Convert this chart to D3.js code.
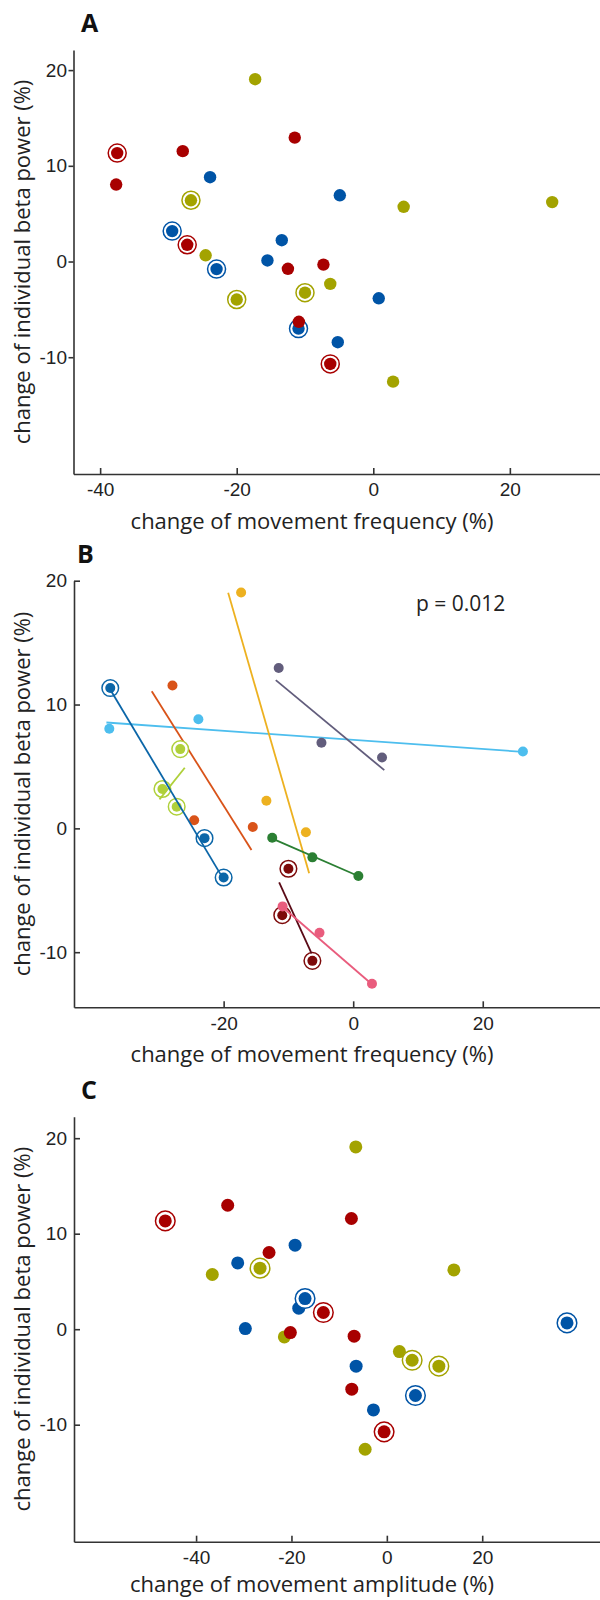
<!DOCTYPE html>
<html>
<head>
<meta charset="utf-8">
<script src="https://cdn.jsdelivr.net/npm/d3@7"></script>
<style>
  body { margin: 0; background: #fff; }
  svg { display: block; font-family: "Open Sans", "Noto Sans", sans-serif; }
</style>
</head>
<body>
<script>
const width = 600
const height = 1600

// nine subjects, three conditions (red, blue, olive)
const subjects = ["S1", "S2", "S3", "S4", "S5", "S6", "S7", "S8", "S9"]
const conditions = ["red", "blue", "olive"]
const condColors = ["#a80000", "#0054a6", "#a3a300"]
const subjColors = ["#0b66a8", "#4dbeee", "#d95319", "#edb120", "#625d7c", "#afd03a", "#2b7f33", "#7d0a0a", "#e95c7d"]
const ringed = [true, false, false, false, false, true, false, true, false]

// change of movement frequency (%)
const freqRed = [-37.5, -37.65, -27.9, -7.3, -11.5, -27.25, -12.5, -6.3, -10.9]
const freqBlue = [-22.95, -23.9, -15.5, -13.4, -4.9, -29.45, 0.8, -10.95, -5.2]
const freqOlive = [-20.0, 26.2, -24.55, -17.3, 4.45, -26.7, -6.3, -10.0, 2.9]

// change of individual beta power (%), panels A and B
const betaRed = [11.33, 8.04, 11.53, -0.32, 12.95, 1.75, -0.76, -10.7, -6.3]
const betaBlue = [-0.79, 8.81, 0.11, 2.23, 6.92, 3.18, -3.84, -7.01, -8.43]
const betaOlive = [-3.97, 6.21, 0.65, 19.05, 5.72, 6.4, -2.34, -3.26, -12.55]

// change of movement amplitude (%), panel C
const ampRed = [-46.46, -24.7, -7.43, -20.23, -33.37, -13.31, -6.86, -0.57, -7.35]
const ampBlue = [37.78, -19.24, -29.67, -18.47, -31.27, -17.15, -6.44, 6.0, -2.81]
const ampOlive = [10.91, 14.06, -21.49, -6.51, -36.6, -26.59, 2.64, 5.31, -4.55]

// beta power as plotted in panel C
const betaAmpRed = [11.34, 8.03, 11.59, -0.35, 12.98, 1.75, -0.73, -10.75, -6.28]
const betaAmpBlue = [0.66, 8.8, 0.07, 2.2, 6.94, 3.21, -3.87, -6.94, -8.45]
const betaAmpOlive = [-3.87, 6.21, -0.81, 19.09, 5.73, 6.39, -2.34, -3.25, -12.57]

// per-subject fit lines in panel B (end points)
const fitX0 = [-37.6, -38.1, -31.1, -19.3, -11.95, -26.0, -12.57, -11.43, -10.97]
const fitY0 = [11.3, 8.55, 11.08, 19.02, 11.97, 4.89, -0.81, -4.36, -6.33]
const fitX1 = [-20.1, 26.2, -15.7, -6.8, 4.8, -29.9, 0.78, -6.43, 2.89]
const fitY1 = [-4.04, 6.18, -1.75, -3.63, 4.7, 2.34, -3.85, -10.09, -12.59]

const pText = "p = 0.012"

const svg = d3.select("body").append("svg")
    .attr("width", width)
    .attr("height", height)
    .attr("viewBox", [0, 0, width, height])

// build long table: one row per subject x condition
const freqs = [freqRed, freqBlue, freqOlive]
const betas = [betaRed, betaBlue, betaOlive]
const amps = [ampRed, ampBlue, ampOlive]
const betasAmp = [betaAmpRed, betaAmpBlue, betaAmpOlive]

const rows = []
conditions.forEach((c, ci) => {
    subjects.forEach((s, si) => {
        rows.push({
            subject: si, cond: ci,
            freq: freqs[ci][si], beta: betas[ci][si],
            amp: amps[ci][si], betaAmp: betasAmp[ci][si],
            ring: ringed[si]
        })
    })
})

// drawing order seen in the figure: blue, olive, red; ringed ones last
const condOrder = [1, 2, 0]
const orderedRows = d3.sort(rows, d => condOrder.indexOf(d.cond), d => d.ring ? 1 : 0)

// plain hyphen minus like the original figure
const tickFmt = d => String(d)

function panel(opt) {
    const x = d3.scaleLinear().domain(opt.xDomain).range([opt.left, opt.right])
    const y = d3.scaleLinear().domain(opt.yDomain).range([opt.bottom, opt.top])

    const g = svg.append("g")

    g.append("g")
        .attr("transform", `translate(0,${opt.bottom})`)
        .call(d3.axisBottom(x).tickValues(opt.xTicks).tickSizeInner(-6).tickSizeOuter(0).tickPadding(9).tickFormat(tickFmt))
        .call(ax => ax.selectAll("text").attr("font-size", 19).attr("fill", "#222").attr("font-family", null))
        .call(ax => ax.selectAll("line, path").attr("stroke", "#333").attr("stroke-width", 1.6))

    g.append("g")
        .attr("transform", `translate(${opt.left},0)`)
        .call(d3.axisLeft(y).tickValues(opt.yTicks).tickSizeInner(opt.yTickIn ? -6 : 5).tickSizeOuter(0)
            .tickPadding(opt.yTickIn ? 7 : 1.5).tickFormat(tickFmt))
        .call(ax => ax.selectAll("text").attr("font-size", 19).attr("fill", "#222").attr("font-family", null))
        .call(ax => ax.selectAll("line, path").attr("stroke", "#333").attr("stroke-width", 1.6))

    g.append("text")
        .attr("x", opt.labelX)
        .attr("y", opt.top - 18)
        .attr("font-size", 25)
        .attr("font-weight", "bold")
        .attr("fill", "#111")
        .text(opt.label)

    g.append("text")
        .attr("x", 312)
        .attr("y", opt.bottom + opt.titleGap)
        .attr("dy", "0.35em")
        .attr("text-anchor", "middle")
        .attr("font-size", 22)
        .attr("fill", "#222")
        .text(opt.xTitle)

    g.append("text")
        .attr("transform", `translate(22,${(opt.top + opt.bottom) / 2}) rotate(-90)`)
        .attr("dy", "0.35em")
        .attr("text-anchor", "middle")
        .attr("font-size", 22)
        .attr("fill", "#222")
        .text("change of individual beta power (%)")

    return {g, x, y}
}

function drawMarker(sel, cx, cy, color, ring, r, ringR) {
    if (ring) {
        sel.append("circle")
            .attr("cx", cx).attr("cy", cy).attr("r", ringR)
            .attr("fill", "#fff")
            .attr("stroke", color)
            .attr("stroke-width", 1.5)
    }
    sel.append("circle")
        .attr("cx", cx).attr("cy", cy).attr("r", r)
        .attr("fill", color)
}

// ---- A ----
const A = panel({
    label: "A", labelX: 81,
    left: 73.5, right: 600, top: 50, bottom: 474,
    xDomain: [-43.9, 33.2], yDomain: [-22.2, 22.1],
    xTicks: [-40, -20, 0, 20], yTicks: [-10, 0, 10, 20], yTickIn: false,
    xTitle: "change of movement frequency (%)", titleGap: 47
})
const gA = A.g.append("g")
orderedRows.forEach(d => drawMarker(gA, A.x(d.freq), A.y(d.beta), condColors[d.cond], d.ring, 6.2, 9))

// ---- B ----
const B = panel({
    label: "B", labelX: 77,
    left: 74, right: 600, top: 580.7, bottom: 1007.3,
    xDomain: [-43.1, 38.1], yDomain: [-14.45, 20],
    xTicks: [-20, 0, 20], yTicks: [-10, 0, 10, 20], yTickIn: true,
    xTitle: "change of movement frequency (%)", titleGap: 47
})
const subjOrder = [1, 2, 3, 4, 6, 5, 0, 7, 8]
subjOrder.forEach(si => {
    const gs = B.g.append("g")
    const pts = rows.filter(d => d.subject === si)
    pts.forEach(d => drawMarker(gs, B.x(d.freq), B.y(d.beta), subjColors[si], d.ring, 5, 8.3))
    gs.append("line")
        .attr("x1", B.x(fitX0[si])).attr("y1", B.y(fitY0[si]))
        .attr("x2", B.x(fitX1[si])).attr("y2", B.y(fitY1[si]))
        .attr("stroke", si === 7 ? "#5a0a16" : subjColors[si])
        .attr("stroke-width", 1.8)
})
B.g.append("text")
    .attr("x", 416)
    .attr("y", 611)
    .attr("font-size", 21)
    .attr("fill", "#222")
    .text(pText)

// ---- C ----
const C = panel({
    label: "C", labelX: 81,
    left: 74, right: 600, top: 1116.7, bottom: 1541.7,
    xDomain: [-65.6, 44.7], yDomain: [-22.25, 22.25],
    xTicks: [-40, -20, 0, 20], yTicks: [-10, 0, 10, 20], yTickIn: true,
    xTitle: "change of movement amplitude (%)", titleGap: 43
})
const gC = C.g.append("g")
orderedRows.forEach(d => drawMarker(gC, C.x(d.amp), C.y(d.betaAmp), condColors[d.cond], d.ring, 6.5, 9.8))
</script>
</body>
</html>
